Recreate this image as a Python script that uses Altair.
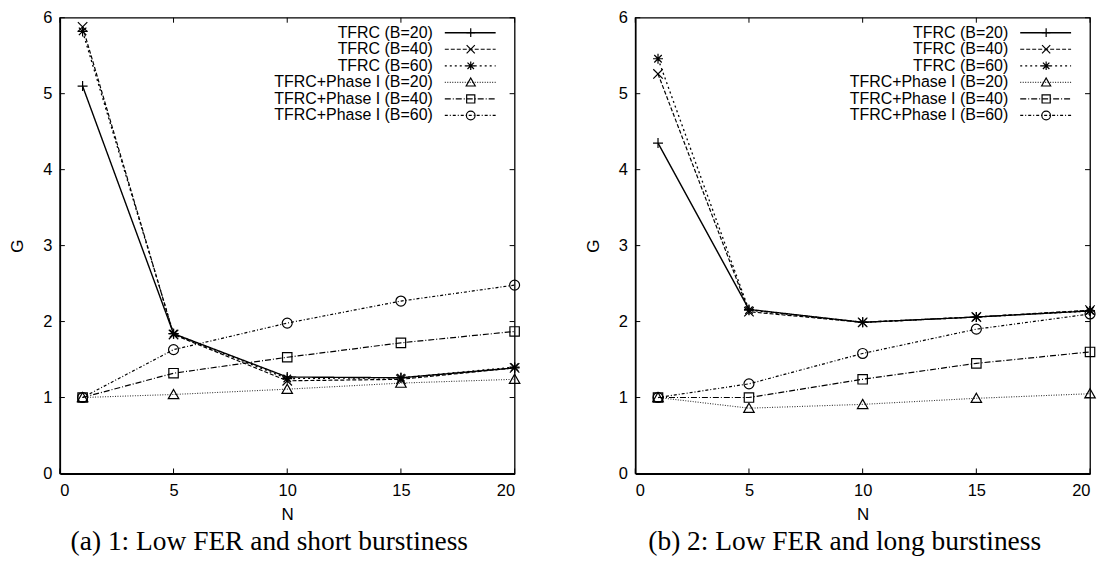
import altair as alt
import pandas as pd

# ---------------- data ----------------
N = [1, 5, 10, 15, 20]
SERIES = ["TFRC (B=20)", "TFRC (B=40)", "TFRC (B=60)",
          "TFRC+Phase I (B=20)", "TFRC+Phase I (B=40)", "TFRC+Phase I (B=60)"]

# panel (a): Low FER and short burstiness
a_tfrc_b20 = [5.10, 1.84, 1.27, 1.26, 1.39]
a_tfrc_b40 = [5.88, 1.83, 1.22, 1.24, 1.39]
a_tfrc_b60 = [5.82, 1.84, 1.25, 1.26, 1.40]
a_ph_b20 = [1.00, 1.04, 1.11, 1.19, 1.24]
a_ph_b40 = [1.00, 1.32, 1.53, 1.72, 1.87]
a_ph_b60 = [1.00, 1.63, 1.98, 2.27, 2.48]

# panel (b): Low FER and long burstiness
b_tfrc_b20 = [4.35, 2.16, 1.99, 2.06, 2.14]
b_tfrc_b40 = [5.26, 2.13, 1.99, 2.06, 2.15]
b_tfrc_b60 = [5.46, 2.15, 1.99, 2.06, 2.14]
b_ph_b20 = [1.00, 0.86, 0.91, 0.99, 1.05]
b_ph_b40 = [1.00, 1.00, 1.24, 1.45, 1.60]
b_ph_b60 = [1.00, 1.18, 1.58, 1.90, 2.10]

X_TICKS = [0, 5, 10, 15, 20]
Y_TICKS = [0, 1, 2, 3, 4, 5, 6]
CAPTION_A = "(a) 1: Low FER and short burstiness"
CAPTION_B = "(b) 2: Low FER and long burstiness"

# ---------------- styles ----------------
W, H = 456, 457
DASHES = [[1, 0], [4, 2], [2, 3], [1, 1.5], [6, 2, 1, 2], [3, 2, 1, 2]]
SHAPES = [
    "M-1,0L1,0M0,-1L0,1",
    "M-1,-1L1,1M-1,1L1,-1",
    "M-1,0L1,0M0,-1L0,1M-0.75,-0.75L0.75,0.75M-0.75,0.75L0.75,-0.75",
    "M0,-0.95L1,0.8L-1,0.8Z",
    "M-0.9,-0.9L0.9,-0.9L0.9,0.9L-0.9,0.9Z",
    "M-1,0A1,1,0,1,1,1,0A1,1,0,1,1,-1,0Z",
]
SIZES = [100, 90, 100, 110, 110, 100]
LINE_COLORS = ["black", "black", "black", "#333333", "black", "black"]
LINE_W = [1.4, 1.2, 1.3, 1.1, 1.2, 1.2]

xs = alt.Scale(domain=[0, 20], nice=False)
ys = alt.Scale(domain=[0, 6], nice=False)


def panel(values, caption):
    layers = []
    # inward ticks on all four sides
    tx = pd.DataFrame({"t": X_TICKS})
    ty = pd.DataFrame({"t": Y_TICKS})
    layers.append(alt.Chart(tx).mark_rule(color="black", strokeWidth=1).encode(
        x=alt.X("t:Q", scale=xs), y=alt.value(H), y2=alt.value(H - 5)))
    layers.append(alt.Chart(tx).mark_rule(color="black", strokeWidth=1).encode(
        x=alt.X("t:Q", scale=xs), y=alt.value(0), y2=alt.value(5)))
    layers.append(alt.Chart(ty).mark_rule(color="black", strokeWidth=1).encode(
        y=alt.Y("t:Q", scale=ys), x=alt.value(0), x2=alt.value(5)))
    layers.append(alt.Chart(ty).mark_rule(color="black", strokeWidth=1).encode(
        y=alt.Y("t:Q", scale=ys), x=alt.value(W), x2=alt.value(W - 5)))

    for i, vals in enumerate(values):
        df = pd.DataFrame({"N": N, "G": vals})
        layers.append(alt.Chart(df).mark_line(
            color=LINE_COLORS[i], strokeWidth=LINE_W[i], strokeDash=DASHES[i]).encode(
            x=alt.X("N:Q", scale=xs), y=alt.Y("G:Q", scale=ys)))
        layers.append(alt.Chart(df).mark_point(
            shape=SHAPES[i], size=SIZES[i], filled=False, color="black",
            strokeWidth=1.2, opacity=1).encode(
            x=alt.X("N:Q", scale=xs), y=alt.Y("G:Q", scale=ys)))

    # legend (gnuplot style: label then sample)
    for i, name in enumerate(SERIES):
        yy = 15 + i * 16.6
        one = pd.DataFrame({"label": [name]})
        layers.append(alt.Chart(one).mark_text(
            align="right", baseline="middle", font="Liberation Sans",
            fontSize=16, color="black").encode(
            x=alt.value(374), y=alt.value(yy), text="label:N"))
        layers.append(alt.Chart(one).mark_rule(
            color=LINE_COLORS[i], strokeWidth=LINE_W[i], strokeDash=DASHES[i]).encode(
            x=alt.value(386), x2=alt.value(437), y=alt.value(yy)))
        layers.append(alt.Chart(one).mark_point(
            shape=SHAPES[i], size=SIZES[i] * 0.75, filled=False, color="black",
            strokeWidth=1.2, opacity=1).encode(
            x=alt.value(412), y=alt.value(yy)))

    cap = pd.DataFrame({"c": [caption]})
    layers.append(alt.Chart(cap).mark_text(
        align="center", baseline="middle", font="Liberation Serif",
        fontSize=27.5, color="black").encode(
        x=alt.value(W / 2 - 18), y=alt.value(H + 69), text="c:N"))

    chart = alt.layer(*layers).encode(
        x=alt.X("N:Q", scale=xs, title="N",
                axis=alt.Axis(values=X_TICKS, titleY=41, titleBaseline="middle",
                              labelPadding=9, domainWidth=2)),
        y=alt.Y("G:Q", scale=ys, title="G",
                axis=alt.Axis(values=Y_TICKS, titleX=-42, titleY=H / 2,
                              titleAlign="center", titleBaseline="middle",
                              labelPadding=8)),
    ).properties(width=W, height=H)
    return chart


left = panel([a_tfrc_b20, a_tfrc_b40, a_tfrc_b60, a_ph_b20, a_ph_b40, a_ph_b60], CAPTION_A)
right = panel([b_tfrc_b20, b_tfrc_b40, b_tfrc_b60, b_ph_b20, b_ph_b40, b_ph_b60], CAPTION_B)

chart = alt.hconcat(left, right, spacing=121, bounds="flush").properties(
    padding={"left": 0, "top": 0, "right": 2, "bottom": 0},
    autosize=alt.AutoSizeParams(type="pad"),
).configure_view(stroke="black", strokeWidth=1.3).configure_axis(
    grid=False, ticks=False, tickSize=0, domainColor="black", domainWidth=1.5,
    labelFont="Liberation Sans", labelFontSize=16.5, labelColor="black",
    titleFont="Liberation Sans", titleFontSize=17, titleFontWeight="normal",
    titleColor="black",
)

chart.save("out.html", embed_options={"renderer": "svg", "actions": False})
